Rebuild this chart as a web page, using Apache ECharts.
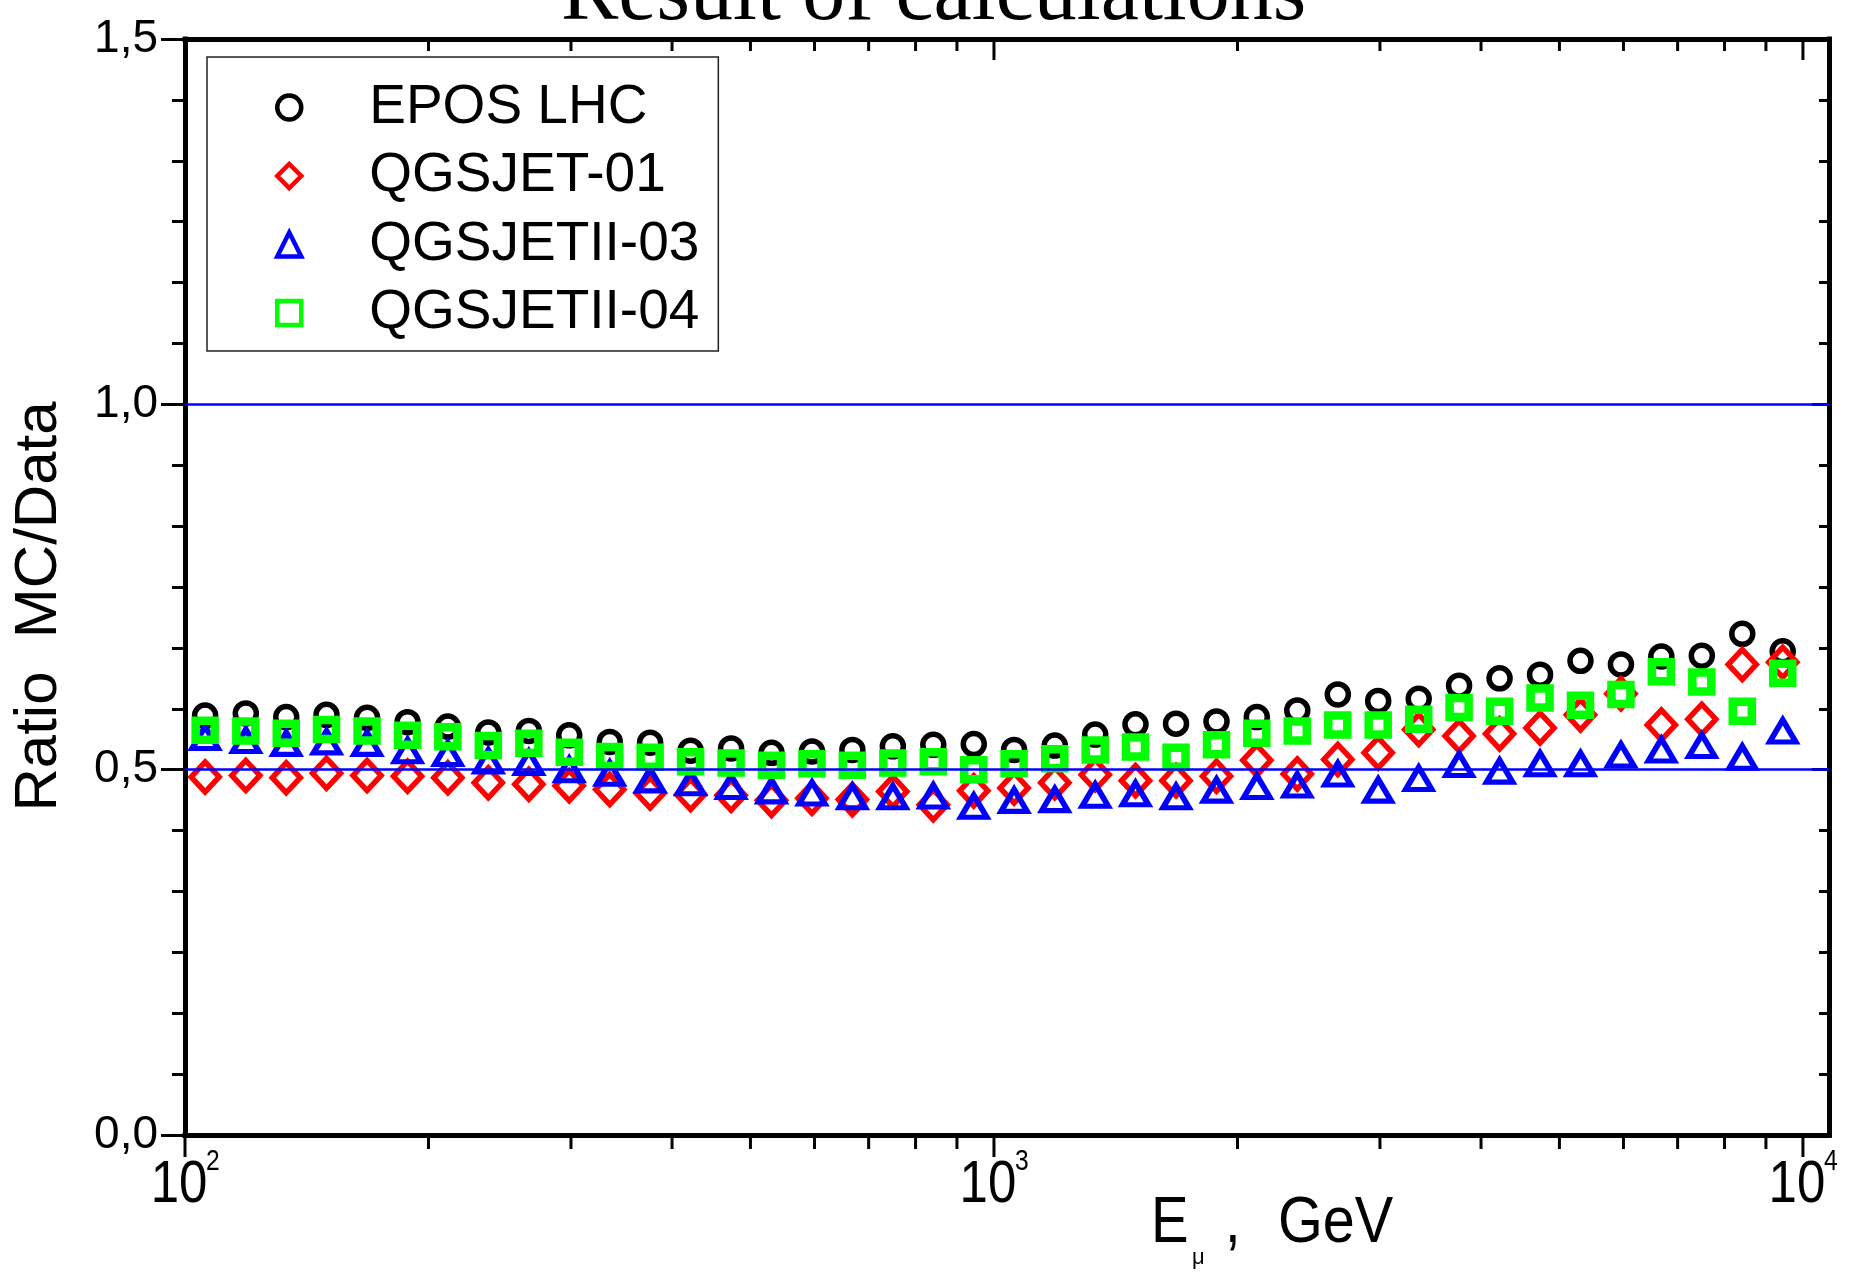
<!DOCTYPE html>
<html>
<head>
<meta charset="utf-8">
<title>Ratio MC/Data</title>
<script src="https://cdn.jsdelivr.net/npm/echarts@6/dist/echarts.min.js"></script>
<style>
  html, body { margin: 0; padding: 0; background: #ffffff; }
  #chart { width: 1852px; height: 1273px; }
</style>
</head>
<body>
<div id="chart"></div>
<script>
// Muon energy bin centres, GeV (20 bins per decade)
const energies = [
  105.9, 118.9, 133.4, 149.6, 167.9, 188.4, 211.3, 237.1, 266.1, 298.5,
  335.0, 375.8, 421.7, 473.2, 530.9, 595.7, 668.3, 749.9, 841.4, 944.1,
  1059, 1189, 1334, 1496, 1679, 1884, 2113, 2371, 2661, 2985,
  3350, 3758, 4217, 4732, 5309, 5957, 6683, 7499, 8414, 9441
];

// Ratio MC/Data for each hadronic interaction model
const eposLHC = [
  0.574, 0.577, 0.572, 0.575, 0.571, 0.565, 0.559, 0.551, 0.553, 0.547,
  0.538, 0.537, 0.526, 0.529, 0.523, 0.525, 0.527, 0.532, 0.534, 0.535,
  0.527, 0.533, 0.548, 0.562, 0.563, 0.566, 0.572, 0.581, 0.603, 0.594,
  0.597, 0.615, 0.625, 0.630, 0.649, 0.644, 0.655, 0.656, 0.686, 0.662
];
const qgsjet01 = [
  0.490, 0.492, 0.489, 0.495, 0.492, 0.491, 0.489, 0.482, 0.480, 0.478,
  0.473, 0.468, 0.466, 0.465, 0.458, 0.461, 0.459, 0.470, 0.452, 0.471,
  0.475, 0.482, 0.493, 0.485, 0.485, 0.491, 0.513, 0.494, 0.514, 0.523,
  0.555, 0.546, 0.549, 0.557, 0.575, 0.604, 0.561, 0.569, 0.644, 0.647
];
const qgsjetII03 = [
  0.544, 0.540, 0.536, 0.538, 0.536, 0.526, 0.522, 0.512, 0.510, 0.500,
  0.495, 0.486, 0.482, 0.477, 0.471, 0.468, 0.463, 0.463, 0.464, 0.450,
  0.458, 0.459, 0.465, 0.467, 0.463, 0.472, 0.477, 0.479, 0.494, 0.472,
  0.488, 0.507, 0.498, 0.508, 0.508, 0.520, 0.527, 0.533, 0.517, 0.553
];
const qgsjetII04 = [
  0.554, 0.553, 0.550, 0.555, 0.553, 0.547, 0.545, 0.533, 0.536, 0.524,
  0.518, 0.517, 0.511, 0.509, 0.506, 0.508, 0.506, 0.509, 0.511, 0.500,
  0.508, 0.515, 0.527, 0.531, 0.517, 0.534, 0.550, 0.553, 0.561, 0.561,
  0.569, 0.585, 0.580, 0.598, 0.588, 0.603, 0.634, 0.620, 0.580, 0.632
];

const seriesNames = ['EPOS LHC', 'QGSJET-01', 'QGSJETII-03', 'QGSJETII-04'];

// Horizontal guide levels
const referenceLevels = [0.5, 1.0];

// Axis ranges, ticks and tick labels
const xMin = 100, xMax = 10770;
const xMajorTicks = [100, 1000, 10000];
const xTickExponents = ['2', '3', '4'];
const xMinorTicks = [200, 300, 400, 500, 600, 700, 800, 900,
                     2000, 3000, 4000, 5000, 6000, 7000, 8000, 9000];
const yMin = 0, yMax = 1.5, yStep = 0.5;
const yTickLabels = ['0,0', '0,5', '1,0', '1,5'];

const SANS = '"Liberation Sans", Arial, sans-serif';
const SERIF = '"Liberation Serif", "Times New Roman", serif';
const LABEL_SCALE_X = 0.85;

const markerStyles = [
  { symbol: 'circle',   size: 21,       color: '#000000', width: 5.5 },
  { symbol: 'diamond',  size: [28, 30], color: '#ff0000', width: 5.5 },
  { symbol: 'triangle', size: [26, 22], color: '#0000ff', width: 5.5 },
  { symbol: 'rect',     size: 19,       color: '#00ff00', width: 8.5 }
];
const seriesValues = [eposLHC, qgsjet01, qgsjetII03, qgsjetII04];

const chart = echarts.init(document.getElementById('chart'), null, { renderer: 'canvas' });

// Log-axis ticks: outward on the bottom edge, inward on the top edge
function tickLines(api, bottomLen, topLen) {
  const x = api.value(0);
  const b = api.coord([x, yMin]);
  const t = api.coord([x, yMax]);
  const st = { stroke: '#000000', lineWidth: 3 };
  return {
    b: b,
    lines: [
      { type: 'line', shape: { x1: b[0], y1: b[1], x2: b[0], y2: b[1] + bottomLen }, style: st },
      { type: 'line', shape: { x1: t[0], y1: t[1], x2: t[0], y2: t[1] + topLen }, style: st }
    ]
  };
}

function minorTickRenderer(params, api) {
  return { type: 'group', children: tickLines(api, 14, 12).lines };
}

// Decade ticks carry a "10^n" label
function majorTickRenderer(params, api) {
  const tk = tickLines(api, 22, 21);
  const b = tk.b;
  const labels = [
    {
      type: 'text', x: b[0] - 6, y: b[1] + 50.5, scaleX: LABEL_SCALE_X,
      style: { text: '10', font: '60px ' + SANS, fill: '#000000', textAlign: 'center', textVerticalAlign: 'middle' }
    },
    {
      type: 'text', x: b[0] + 21, y: b[1] + 27, scaleX: LABEL_SCALE_X,
      style: { text: xTickExponents[params.dataIndex], font: '29px ' + SANS, fill: '#000000',
               textAlign: 'left', textVerticalAlign: 'middle' }
    }
  ];
  return { type: 'group', children: tk.lines.concat(labels) };
}

const axisLineStyle = { color: '#000000', width: 5, cap: 'square' };

const scatterSeries = seriesNames.map(function (name, i) {
  const m = markerStyles[i];
  return {
    name: name,
    type: 'scatter',
    xAxisIndex: 0,
    yAxisIndex: 0,
    symbol: m.symbol,
    symbolSize: m.size,
    data: energies.map(function (e, k) { return [e, seriesValues[i][k]]; }),
    itemStyle: { color: 'rgba(0,0,0,0)', borderColor: m.color, borderWidth: m.width, opacity: 1 },
    emphasis: { disabled: true },
    z: 3
  };
});

const option = {
  animation: false,
  backgroundColor: '#ffffff',
  grid: { left: 185, right: 23, top: 39, bottom: 138, containLabel: false },
  legend: {
    data: seriesNames,
    orient: 'vertical',
    left: 207,
    top: 57,
    padding: [23, 19, 10.5, 68],
    itemGap: 13.5,
    itemWidth: 24,
    itemHeight: 24,
    borderColor: '#222222',
    borderWidth: 1.5,
    selectedMode: false,
    itemStyle: { borderWidth: 4.5 },
    textStyle: { fontFamily: SANS, fontSize: 55, lineHeight: 55, color: '#000000', padding: [0, 0, 0, 63] }
  },
  xAxis: [
    {
      type: 'log', logBase: 10, min: xMin, max: xMax, position: 'bottom',
      axisLine: { show: true, onZero: false, lineStyle: axisLineStyle },
      axisTick: { show: false },
      axisLabel: { show: false },
      splitLine: { show: false }
    },
    {
      type: 'log', logBase: 10, min: xMin, max: xMax, position: 'top',
      axisLine: { show: true, onZero: false, lineStyle: axisLineStyle },
      axisTick: { show: false },
      axisLabel: { show: false },
      splitLine: { show: false }
    }
  ],
  yAxis: [
    {
      type: 'value', min: yMin, max: yMax, interval: yStep, position: 'left',
      axisLine: { show: true, onZero: false, lineStyle: axisLineStyle },
      axisTick: { show: true, inside: false, length: 24, lineStyle: { color: '#000000', width: 3 } },
      minorTick: { show: true, splitNumber: 6, length: 13, lineStyle: { color: '#000000', width: 3 } },
      splitLine: { show: false },
      axisLabel: {
        margin: 27, fontFamily: SANS, fontSize: 46, color: '#000000',
        formatter: function (value) {
          return yTickLabels[Math.round((value - yMin) / yStep)];
        }
      }
    },
    {
      type: 'value', min: yMin, max: yMax, interval: yStep, position: 'right',
      axisLine: { show: true, onZero: false, lineStyle: axisLineStyle },
      axisTick: { show: true, inside: true, length: 17, lineStyle: { color: '#000000', width: 3 } },
      minorTick: { show: true, splitNumber: 6, length: 10, lineStyle: { color: '#000000', width: 3 } },
      splitLine: { show: false },
      axisLabel: { show: false }
    }
  ],
  graphic: [
    {
      type: 'text', x: 561, y: -4, silent: true,
      style: { text: 'Result of calculations', font: '86px ' + SERIF, fill: '#000000',
               textAlign: 'left', textVerticalAlign: 'middle' }
    },
    {
      type: 'text', x: 39, y: 606.5, rotation: Math.PI / 2, silent: true,
      style: { text: 'Ratio  MC/Data', font: '60px ' + SANS, fill: '#000000',
               textAlign: 'center', textVerticalAlign: 'middle' }
    },
    {
      type: 'text', x: 1151, y: 1224, scaleX: 0.88, silent: true,
      style: { text: 'E', font: '64px ' + SANS, fill: '#000000', textAlign: 'left', textVerticalAlign: 'middle' }
    },
    {
      type: 'text', x: 1192, y: 1257.8, silent: true,
      style: { text: 'μ', font: '22px ' + SANS, fill: '#000000', textAlign: 'left', textVerticalAlign: 'middle' }
    },
    {
      type: 'text', x: 1225, y: 1224, scaleX: 0.88, silent: true,
      style: { text: ',', font: '64px ' + SANS, fill: '#000000', textAlign: 'left', textVerticalAlign: 'middle' }
    },
    {
      type: 'text', x: 1278, y: 1224, scaleX: 0.9, silent: true,
      style: { text: 'GeV', font: '64px ' + SANS, fill: '#000000', textAlign: 'left', textVerticalAlign: 'middle' }
    }
  ],
  series: [
    {
      name: 'guides',
      type: 'line',
      data: [],
      xAxisIndex: 0,
      yAxisIndex: 0,
      silent: true,
      z: 1,
      markLine: {
        silent: true,
        symbol: 'none',
        label: { show: false },
        emphasis: { disabled: true },
        lineStyle: { color: '#0000ff', width: 2.5, type: 'solid' },
        data: referenceLevels.map(function (v) { return { yAxis: v }; })
      }
    },
    {
      name: 'majorTicks',
      type: 'custom',
      xAxisIndex: 0,
      yAxisIndex: 0,
      clip: false,
      silent: true,
      z: 5,
      renderItem: majorTickRenderer,
      data: xMajorTicks.map(function (v) { return [v, yMin]; })
    },
    {
      name: 'minorTicks',
      type: 'custom',
      xAxisIndex: 0,
      yAxisIndex: 0,
      clip: false,
      silent: true,
      z: 5,
      renderItem: minorTickRenderer,
      data: xMinorTicks.map(function (v) { return [v, yMin]; })
    }
  ].concat(scatterSeries)
};

chart.setOption(option);
</script>
</body>
</html>
